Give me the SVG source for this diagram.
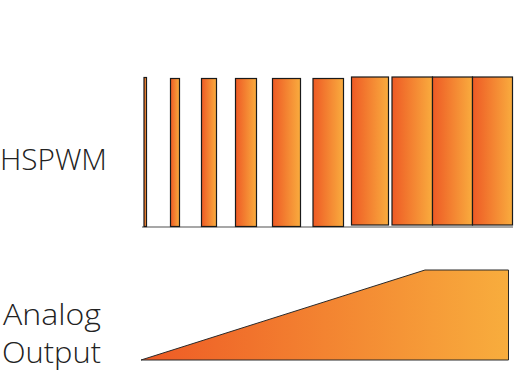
<svg xmlns="http://www.w3.org/2000/svg" width="515" height="385" viewBox="0 0 515 385">
<defs>
<linearGradient id="g" x1="0" y1="0" x2="1" y2="0">
<stop offset="0" stop-color="#ee5a25"/>
<stop offset="1" stop-color="#f9ac3e"/>
</linearGradient>
<linearGradient id="ga" gradientUnits="userSpaceOnUse" x1="141" y1="0" x2="508" y2="0">
<stop offset="0" stop-color="#ee5a25"/>
<stop offset="1" stop-color="#f8ad3d"/>
</linearGradient>
<style>
.bar{fill:url(#g);stroke:#1a1a1a;stroke-width:1.2}
.lbl{font-family:"Open Sans","Liberation Sans",sans-serif;font-weight:300;font-size:30px;fill:#222}
</style>
</defs>
<g id="labels">
<text class="lbl" x="0" y="170" textLength="107" lengthAdjust="spacingAndGlyphs">HSPWM</text>
<text class="lbl" x="3" y="325" textLength="98" lengthAdjust="spacingAndGlyphs">Analog</text>
<text class="lbl" x="2" y="363" textLength="99" lengthAdjust="spacingAndGlyphs">Output</text>
</g>
<g id="pwm">
<line x1="142" y1="227" x2="513" y2="227" stroke="#8a8a8a" stroke-width="1.5"/>
<rect class="bar" x="144" y="77.5" width="2.5" height="149"/>
<rect class="bar" x="170.5" y="78.5" width="9" height="148"/>
<rect class="bar" x="201.5" y="78.5" width="15" height="148"/>
<rect class="bar" x="235.5" y="78.5" width="21" height="148"/>
<rect class="bar" x="272.5" y="78.5" width="28" height="148"/>
<rect class="bar" x="313" y="78.5" width="30.5" height="148"/>
<rect class="bar" x="351.5" y="77" width="37" height="148"/>
<rect class="bar" x="392" y="77" width="40.5" height="148"/>
<rect class="bar" x="432.5" y="77" width="40" height="148"/>
<rect class="bar" x="472.5" y="77" width="40" height="148"/>
</g>
<g id="analog">
<polygon points="141,360 425,270 508.5,270 508.5,360" fill="url(#ga)" stroke="#2a2a2a" stroke-width="1"/>
</g>
</svg>
